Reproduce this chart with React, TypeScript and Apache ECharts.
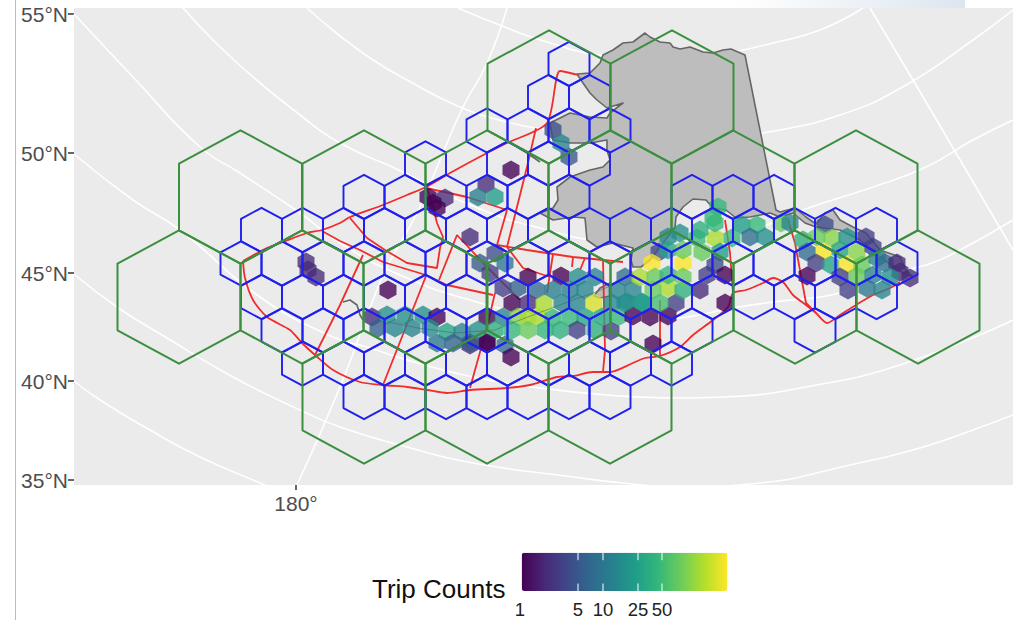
import React, { useEffect, useRef } from "react";
import * as echarts from "echarts";

// Axis ticks (projected map, so values are plot coordinates of each graticule tick)
const latTicks = [14, 153, 273, 381, 480];
const latLabels = ["55°N", "50°N", "45°N", "40°N", "35°N"];
const lonTicks = [296];
const lonLabels = ["180°"];

// Legend
const legendTitle = "Trip Counts";
const legendLabels = ["1", "5", "10", "25", "50"];
const legendLabelX = [520, 578, 603, 638, 662];
const maxCount = 350;
const viridis = ["#440154", "#482878", "#3E4989", "#31688E", "#26828E", "#1F9E89", "#35B779", "#6DCD59", "#B4DE2C", "#FDE725"];

// Large (green) hexagon centres
const greenHexes = [
  [549, 97], [672, 97],
  [240.5, 197], [364, 197], [487, 197], [610, 197], [733, 197], [856, 197],
  [179, 297], [302, 297], [425, 297], [549, 297], [672, 297], [795, 297], [918, 297],
  [364, 397], [487, 397], [610, 397],
];

// Medium (blue) hexagon centres
const blueRowsA: [number, number[]][] = [
  [64, [569]],
  [97, [548.5, 589.5]],
  [130.5, [487, 528, 569, 610]],
  [163.5, [425.5, 507.5, 548.5, 589.5]],
  [197, [364, 405, 446, 487, 528, 569, 692, 733, 774]],
];
const blueRowsB: [number, number[]][] = [
  [230, [261.5, 302.5, 343.5, 384.5, 425.5, 466.5, 507.5, 548.5, 589.5, 630.5, 671.5, 712.5, 753.5, 794.5, 835.5, 876.5]],
  [263.5, [241, 282, 323, 364, 405, 446, 487, 528, 569, 610, 651, 692, 733, 774, 815, 856, 897]],
  [297, [261.5, 302.5, 343.5, 384.5, 425.5, 466.5, 507.5, 548.5, 589.5, 630.5, 671.5, 712.5, 753.5, 794.5, 835.5, 876.5]],
];
const blueRowsC: [number, number[]][] = [
  [330.5, [282, 323, 364, 405, 446, 487, 528, 569, 610, 651, 692, 815]],
  [363.5, [302.5, 343.5, 384.5, 425.5, 466.5, 507.5, 548.5, 589.5, 630.5, 671.5]],
  [397, [364, 405, 446, 487, 528, 569, 610]],
];

// Trip count cells: x, y, count
const cellsWest = [
  [306, 262, 2], [308, 270, 2], [316, 277, 2],
  [428, 197, 1], [445, 198, 2], [437, 208, 1], [433, 203, 1],
  [486, 184, 2], [478, 197, 12], [495, 197, 25], [511, 170, 1], [470, 237, 2],
  [553, 130, 4], [561, 143, 14], [569, 157, 5],
  [388, 290, 1],
  [372, 317, 2], [387, 315, 18], [405, 315, 18], [423, 315, 18], [437, 317, 1],
  [378, 328, 6], [395, 328, 14], [412, 328, 14], [430, 328, 18], [447, 332, 30], [462, 332, 14],
  [437, 343, 10], [453, 343, 6], [470, 345, 2], [487, 343, 1], [505, 345, 8], [511, 357, 1],
];
const cellsCentre = [
  [495, 253, 4], [480, 263, 5], [505, 263, 10], [490, 273, 3], [528, 277, 1], [561, 276, 1], [578, 277, 18], [595, 277, 14],
  [503, 288, 3], [518, 288, 6], [537, 290, 8], [553, 290, 12], [570, 290, 12], [585, 290, 14], [625, 277, 8], [617, 290, 14], [633, 290, 14],
  [512, 303, 1], [528, 303, 2], [544, 304, 170], [562, 303, 14], [577, 303, 14], [594, 303, 250], [612, 303, 14], [627, 302, 18], [642, 302, 25],
  [487, 317, 1], [503, 317, 14], [518, 317, 120], [528, 317, 170], [538, 317, 170], [553, 318, 50], [570, 318, 50], [585, 317, 30], [602, 317, 30], [618, 317, 50], [633, 316, 1], [650, 317, 1], [668, 316, 1],
  [478, 330, 18], [495, 330, 40], [512, 330, 50], [528, 330, 90], [545, 330, 50], [560, 330, 40], [577, 330, 3], [595, 330, 40], [611, 331, 3],
  [487, 343, 1], [470, 343, 5], [653, 344, 1],
];
const cellsBay = [
  [668, 237, 14], [680, 233, 18], [659, 252, 4], [652, 263, 340], [683, 263, 340], [668, 250, 30], [683, 250, 90],
  [697, 238, 50], [702, 252, 90], [715, 238, 170], [715, 223, 50], [700, 230, 40], [732, 238, 50], [720, 252, 25],
  [715, 265, 4], [707, 275, 3], [725, 275, 1], [700, 290, 2], [725, 303, 1], [676, 303, 3],
  [668, 288, 170], [683, 290, 40], [640, 277, 170], [655, 277, 90], [668, 275, 50], [683, 277, 90], [653, 290, 90],
  [660, 303, 60], [643, 303, 25], [625, 303, 18],
  [718, 207, 50], [713, 218, 50], [742, 225, 25], [757, 225, 50], [750, 237, 8], [765, 237, 18],
  [781, 223, 90], [790, 223, 14],
];
const cellsEast = [
  [825, 225, 4], [803, 240, 40], [832, 238, 120], [817, 237, 90], [847, 237, 18], [866, 237, 3],
  [823, 252, 340], [807, 252, 8], [840, 250, 30], [857, 252, 120], [873, 247, 3],
  [816, 263, 3], [831, 265, 30], [847, 265, 340], [862, 265, 90], [877, 258, 14], [885, 263, 8], [897, 263, 2],
  [807, 276, 1], [857, 276, 90], [840, 277, 3], [873, 275, 14], [900, 272, 2], [910, 278, 2], [890, 277, 18],
  [848, 290, 3], [867, 288, 10], [882, 290, 14],
];

// Land
const landMain = [
  [645, 33], [650, 37], [660, 42], [670, 43], [673, 47], [680, 49], [690, 47], [703, 52], [713, 53], [723, 50], [731, 49], [745, 55],
  [776, 210], [780, 212], [795, 208], [806, 217], [816, 224], [825, 213], [833, 210], [840, 220], [853, 227], [866, 233], [880, 250], [900, 257], [906, 270], [913, 277],
  [903, 273], [880, 257], [860, 240], [840, 230], [816, 227], [805, 223], [793, 213], [780, 217], [770, 213], [750, 217], [736, 218], [726, 210], [713, 208],
  [706, 200], [693, 199], [683, 207], [676, 217], [675, 228], [673, 230], [660, 247], [650, 260], [641, 267], [633, 267], [631, 260], [633, 248],
  [613, 243], [597, 247], [587, 240], [585, 218], [573, 217], [553, 220], [540, 213], [553, 208], [558, 200], [557, 187], [570, 177],
  [590, 170], [603, 167], [610, 160], [607, 150], [607, 140], [590, 143], [570, 143], [553, 140], [550, 123], [570, 113], [590, 117], [607, 118],
  [610, 113], [623, 103], [607, 108], [597, 100], [590, 93], [583, 83], [577, 74], [590, 73], [600, 63], [603, 55], [613, 50], [623, 43], [633, 42],
];
const landIsland = [[610, 283], [600, 288], [594, 296], [600, 298], [610, 296]];
const landPieces = [landMain, landIsland];
const coastWest = [[343, 302], [350, 300], [357, 305], [360, 315], [363, 320]];
const coastNorth = [[517, 147], [527, 153], [540, 162]];
const coastChain = [[388, 322], [418, 328], [455, 333], [495, 330], [512, 323], [573, 300], [593, 293], [613, 285]];

// Red boundaries
const redNorth = [[243, 261], [267, 248], [283, 242], [307, 233], [322, 230], [340, 223], [350, 217], [383, 205], [407, 195], [426, 187], [450, 173], [487, 153], [507, 143], [547, 123], [560, 71], [578, 75]];
const redOuter = [
  [243, 261], [245, 278], [253, 300], [267, 317], [290, 330], [302, 343], [315, 355], [333, 370], [360, 382], [383, 385], [407, 387], [427, 390], [447, 393], [470, 390], [507, 388], [530, 385], [557, 377], [573, 376], [593, 372], [610, 372], [633, 363], [645, 358], [660, 356], [680, 347], [693, 335], [713, 320], [728, 307], [733, 293], [746, 290], [763, 283], [773, 278], [783, 282], [793, 295], [806, 305], [816, 313], [827, 323], [840, 315], [856, 305], [873, 295], [890, 288], [900, 282],
];
const redLink1 = [[426, 188], [467, 197], [507, 210]];
const redLoop = [[350, 218], [367, 238], [385, 250], [407, 263], [437, 268], [440, 248], [443, 237], [437, 223], [433, 207], [427, 188]];
const redParallel = [[322, 231], [340, 241], [360, 250], [383, 262], [426, 275], [447, 285], [493, 295]];
const redDiag = [[439, 280], [457, 235], [487, 267], [520, 300]];
const redSouth1 = [[426, 276], [383, 385]];
const redSouth2 = [[363, 255], [340, 305], [315, 355]];
const redSouth3 = [[495, 293], [487, 327], [470, 388]];
const redMid1 = [[507, 210], [497, 245]];
const redMid2 = [[536, 128], [527, 167], [507, 247], [523, 268], [550, 277]];
const redShelf = [[497, 245], [527, 250], [553, 254], [573, 257], [603, 260], [623, 262]];
const redTick1 = [[553, 254], [547, 293]];
const redTick2 = [[573, 257], [572, 267]];
const redTick3 = [[585, 258], [580, 270]];
const redTick4 = [[603, 260], [605, 350], [603, 372]];
const redVert1 = [[725, 220], [730, 253], [733, 293]];
const redVert2 = [[788, 220], [795, 243], [806, 303], [816, 313]];
const redVert3 = [[660, 300], [660, 356]];

// White graticule
const parallel60 = [[183, 8], [213, 40], [253, 77], [300, 115], [340, 143], [403, 172], [470, 205], [540, 228], [610, 240], [680, 240], [750, 230], [811, 207], [873, 187], [926, 167], [973, 140], [1013, 120]];
const parallel65 = [[307, 8], [340, 36], [373, 60], [407, 80], [460, 107], [507, 122], [547, 130], [610, 140], [680, 145], [763, 133], [840, 115], [906, 85], [973, 40], [1013, 10]];
const parallel70 = [[458, 8], [507, 28], [547, 42], [600, 55], [680, 60], [733, 52], [773, 43], [820, 30], [863, 8]];
const parallel55 = [[74, 14], [133, 77], [200, 147], [240, 173], [300, 213], [340, 243], [400, 275], [470, 300], [540, 316], [610, 322], [680, 318], [733, 308], [773, 302], [840, 293], [873, 277], [926, 265], [960, 250], [1013, 220]];
const parallel50 = [[74, 154], [133, 200], [180, 230], [260, 297], [333, 337], [367, 347], [407, 360], [473, 377], [540, 388], [607, 395], [680, 398], [723, 397], [806, 387], [906, 363], [1013, 320]];
const parallel45 = [[74, 274], [117, 307], [167, 338], [233, 377], [300, 410], [340, 427], [407, 447], [473, 463], [573, 477], [623, 483], [680, 487], [760, 483], [850, 465], [920, 448], [973, 430], [1013, 415]];
const parallel40 = [[74, 381], [100, 400], [150, 430], [200, 457], [260, 483], [266, 486]];
const meridian180 = [[507, 8], [487, 63], [463, 107], [440, 160], [417, 213], [387, 267], [373, 300], [340, 387], [297, 485]];
const meridianEast = [[870, 8], [913, 80], [956, 153], [1013, 250]];

const graticule = [parallel70, parallel65, parallel60, parallel55, parallel50, parallel45, parallel40, meridian180, meridianEast];
const redLinesStraight = [redLink1, redLoop, redParallel, redDiag, redSouth1, redSouth2, redSouth3, redMid1, redMid2, redShelf, redTick1, redTick2, redTick3, redTick4, redVert1, redVert2, redVert3];
const redLinesCurved = [redNorth, redOuter];
const coastLines = [coastWest, coastNorth];

const rowsToPoints = (rows: [number, number[]][]) => rows.flatMap(([y, xs]) => xs.map((x) => [x, y]));
const blueHexes = [...rowsToPoints(blueRowsA), ...rowsToPoints(blueRowsB), ...rowsToPoints(blueRowsC)];
const cells = [...cellsWest, ...cellsCentre, ...cellsBay, ...cellsEast].map((c) => [c[0], c[1], c[2], Math.log(c[2])]);

const hexPoints = (api: any, rx: number, ry: number) => {
  const cx = api.value(0);
  const cy = api.value(1);
  return [[0, -ry], [rx, -ry / 2], [rx, ry / 2], [0, ry], [-rx, ry / 2], [-rx, -ry / 2]].map((d) =>
    api.coord([cx + d[0], cy + d[1]])
  );
};

const hexSeries = (name: string, data: number[][], rx: number, ry: number, stroke: string, lineWidth: number, z: number) => ({
  type: "custom",
  name,
  z,
  silent: true,
  clip: true,
  encode: { x: 0, y: 1 },
  data,
  renderItem: (_: any, api: any) => ({
    type: "polygon",
    shape: { points: hexPoints(api, rx, ry) },
    style: { fill: "none", stroke, lineWidth, lineJoin: "round" },
  }),
});

const lineSeries = (data: number[][], color: string, width: number, smooth: boolean | number, z: number, opacity = 1) => ({
  type: "line",
  data,
  z,
  silent: true,
  smooth,
  clip: true,
  showSymbol: false,
  symbol: "none",
  lineStyle: { color, width, opacity },
});

export default function App() {
  const ref = useRef<HTMLDivElement>(null);

  useEffect(() => {
    const chart = echarts.init(ref.current!, undefined, { renderer: "svg" });
    const base = [
      ...graticule.map((g) => lineSeries(g, "#FFFFFF", 1.6, true, 1)),
      {
        type: "custom",
        z: 2,
        silent: true,
        clip: true,
        data: landPieces.map((_, i) => [i]),
        renderItem: (_: any, api: any) => ({
          type: "polygon",
          shape: { points: landPieces[api.value(0)].map((p) => api.coord(p)) },
          style: { fill: "#BDBDBD", stroke: "#666666", lineWidth: 1.6, lineJoin: "round" },
        }),
      },
      ...coastLines.map((c) => lineSeries(c, "#666666", 1.6, false, 3)),
      ...redLinesStraight.map((r) => lineSeries(r, "#F02C2C", 1.8, false, 4)),
      ...redLinesCurved.map((r) => lineSeries(r, "#F02C2C", 1.8, 0.25, 4)),
    ];
    const fillIndex = base.length;
    const legendTop = 552.7;
    const legendLeft = 521.7;
    const legendWidth = 205.6;
    const legendHeight = 38.3;
    const ticksX = legendLabelX.slice(1);
    chart.setOption({
      animation: false,
      backgroundColor: "#FFFFFF",
      grid: { show: true, left: 74, right: 0, top: 8, bottom: 135, backgroundColor: "#EBEBEB", borderWidth: 0 },
      xAxis: {
        type: "value",
        min: 74,
        max: 1013,
        splitLine: { show: false },
        axisLine: { show: false },
        axisTick: { show: true, length: 5, customValues: lonTicks, lineStyle: { color: "#333333", width: 1.5 } },
        axisLabel: {
          customValues: lonTicks,
          formatter: (v: number) => lonLabels[lonTicks.indexOf(v)] ?? "",
          color: "#4D4D4D",
          fontFamily: "Liberation Sans",
          fontSize: 21,
          margin: 8,
        },
      },
      yAxis: {
        type: "value",
        inverse: true,
        min: 8,
        max: 485,
        splitLine: { show: false },
        axisLine: { show: false },
        axisTick: { show: true, length: 6, customValues: latTicks, lineStyle: { color: "#333333", width: 1.5 } },
        axisLabel: {
          customValues: latTicks,
          formatter: (v: number) => latLabels[latTicks.indexOf(v)] ?? "",
          color: "#4D4D4D",
          fontFamily: "Liberation Sans",
          fontSize: 21,
          margin: 6,
        },
      },
      visualMap: {
        type: "continuous",
        seriesIndex: fillIndex,
        dimension: 3,
        min: 0,
        max: Math.log(maxCount),
        orient: "horizontal",
        left: legendLeft,
        top: legendTop,
        padding: 0,
        itemWidth: legendHeight,
        itemHeight: legendWidth,
        calculable: false,
        hoverLink: false,
        inRange: { color: viridis },
      },
      series: [
        ...base,
        {
          type: "custom",
          z: 5,
          silent: true,
          clip: true,
          encode: { x: 0, y: 1 },
          data: cells,
          renderItem: (_: any, api: any) => ({
            type: "polygon",
            shape: { points: hexPoints(api, 8.5, 9.5) },
            style: { fill: api.visual("color"), opacity: 0.78 },
          }),
        },
        lineSeries(coastChain, "#3E5F68", 1, false, 6, 0.5),
        hexSeries("blue", blueHexes, 20.5, 22.2, "#2020EE", 1.9, 7),
        hexSeries("green", greenHexes, 61.5, 66.7, "#3B8F3F", 2, 8),
      ],
      graphic: [
        { type: "line", z: 100, shape: { x1: 15.5, y1: 0, x2: 15.5, y2: 620 }, style: { stroke: "#BDBDBD", lineWidth: 1 } },
        {
          type: "rect",
          z: 100,
          shape: { x: 735, y: 0, width: 230, height: 8 },
          style: {
            fill: new echarts.graphic.LinearGradient(0, 0, 1, 0, [
              { offset: 0, color: "#FFFFFF" },
              { offset: 1, color: "#DCE6F0" },
            ]),
          },
        },
        {
          type: "text",
          z: 100,
          x: 372,
          y: 589,
          style: { text: legendTitle, fontFamily: "Liberation Sans", fontSize: 26, fill: "#111111", textVerticalAlign: "middle" },
        },
        ...legendLabels.map((t, i) => ({
          type: "text",
          z: 100,
          x: legendLabelX[i],
          y: 609,
          style: { text: t, fontFamily: "Liberation Sans", fontSize: 18.5, fill: "#222222", textAlign: "center", textVerticalAlign: "middle" },
        })),
        ...ticksX.flatMap((x) => [
          { type: "line", z: 100, shape: { x1: x, y1: legendTop, x2: x, y2: legendTop + 7.5 }, style: { stroke: "#FFFFFF", lineWidth: 1 } },
          { type: "line", z: 100, shape: { x1: x, y1: legendTop + legendHeight - 7.5, x2: x, y2: legendTop + legendHeight }, style: { stroke: "#FFFFFF", lineWidth: 1 } },
        ]),
      ],
    });
    return () => chart.dispose();
  }, []);

  return <div ref={ref} style={{ position: "absolute", left: 0, top: 0, width: 1013, height: 620 }} />;
}
